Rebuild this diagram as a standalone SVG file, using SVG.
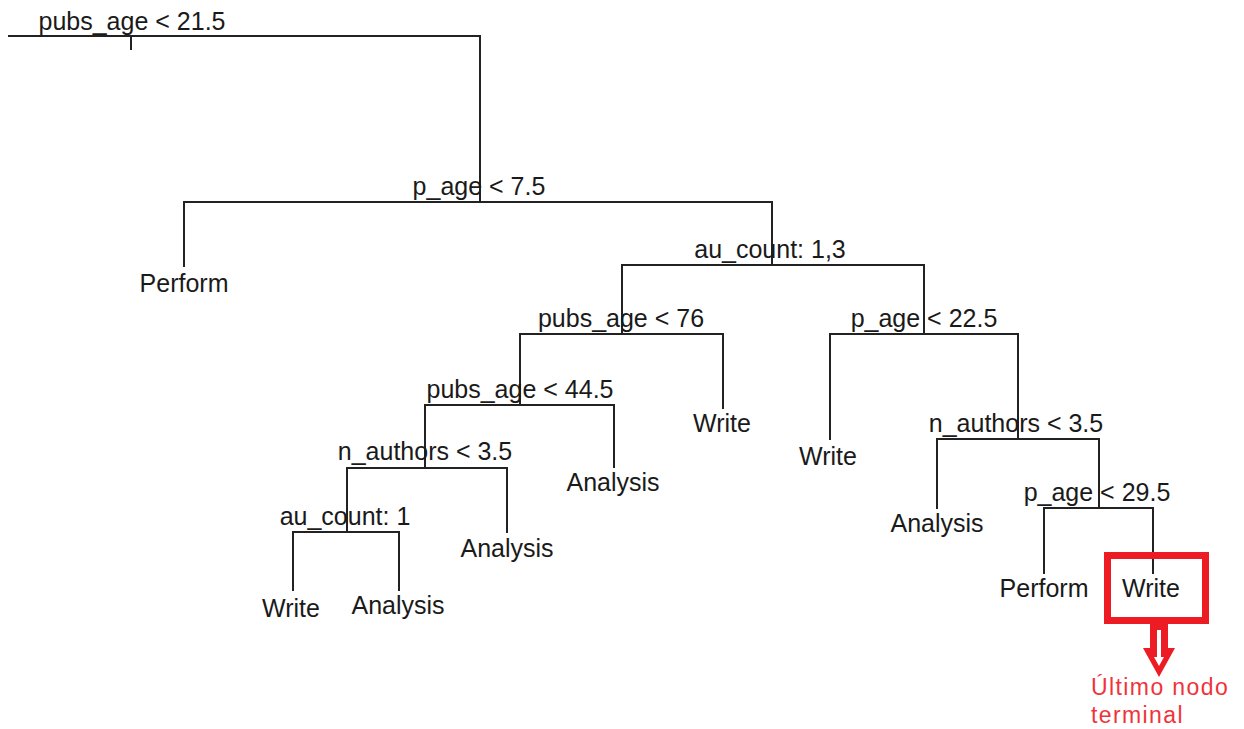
<svg xmlns="http://www.w3.org/2000/svg" width="1244" height="729" viewBox="0 0 1244 729">
  <style>
    .edge { fill: none; stroke: #222; stroke-width: 2; stroke-linecap: square; }
    .lbl { font-family: "Liberation Sans", Arial, sans-serif; font-size: 25px; fill: #1a1a1a; text-anchor: middle; }
    .note { font-family: "Liberation Sans", Arial, sans-serif; font-size: 23px; letter-spacing: 1.4px; fill: #f0333b; }
  </style>
  <rect width="1244" height="729" fill="#ffffff"/>

  <!-- tree branches -->
  <g id="connectors">
    <!-- root -->
    <path class="edge" d="M9 36 H480 V202"/>
    <path class="edge" d="M131 36 V49"/>
    <!-- p_age < 7.5 -->
    <path class="edge" d="M184 266 V202 H772 V265"/>
    <!-- au_count: 1,3 -->
    <path class="edge" d="M622 334 V265 H924 V334"/>
    <!-- pubs_age < 76 -->
    <path class="edge" d="M520 405 V334 H723 V408"/>
    <!-- p_age < 22.5 -->
    <path class="edge" d="M830 439 V334 H1018 V439"/>
    <!-- pubs_age < 44.5 -->
    <path class="edge" d="M425 468 V405 H614 V467"/>
    <!-- n_authors < 3.5 (left) -->
    <path class="edge" d="M347 532 V468 H507 V532"/>
    <!-- au_count: 1 -->
    <path class="edge" d="M293 590 V532 H399 V590"/>
    <!-- n_authors < 3.5 (right) -->
    <path class="edge" d="M937 508 V439 H1099 V508"/>
    <!-- p_age < 29.5 -->
    <path class="edge" d="M1044 573 V508 H1153 V573"/>
  </g>

  <!-- split nodes -->
  <g id="n-root"><text class="lbl" x="132" y="30">pubs_age &lt; 21.5</text></g>
  <g id="n-page-7"><text class="lbl" x="479" y="195">p_age &lt; 7.5</text></g>
  <g id="n-aucount-13"><text class="lbl" x="770" y="258">au_count: 1,3</text></g>
  <g id="n-pubs-76"><text class="lbl" x="621" y="327">pubs_age &lt; 76</text></g>
  <g id="n-page-22"><text class="lbl" x="924" y="327">p_age &lt; 22.5</text></g>
  <g id="n-pubs-44"><text class="lbl" x="520" y="398">pubs_age &lt; 44.5</text></g>
  <g id="n-nauth-left"><text class="lbl" x="425" y="460">n_authors &lt; 3.5</text></g>
  <g id="n-aucount-1"><text class="lbl" x="345" y="525">au_count: 1</text></g>
  <g id="n-nauth-right"><text class="lbl" x="1016" y="432">n_authors &lt; 3.5</text></g>
  <g id="n-page-29"><text class="lbl" x="1097" y="501">p_age &lt; 29.5</text></g>

  <!-- terminal nodes -->
  <g id="leaf-perform-1"><text class="lbl" x="184" y="292">Perform</text></g>
  <g id="leaf-write-1"><text class="lbl" x="722" y="432">Write</text></g>
  <g id="leaf-write-2"><text class="lbl" x="828" y="465">Write</text></g>
  <g id="leaf-analysis-1"><text class="lbl" x="613" y="491">Analysis</text></g>
  <g id="leaf-analysis-2"><text class="lbl" x="507" y="557">Analysis</text></g>
  <g id="leaf-write-3"><text class="lbl" x="291" y="617">Write</text></g>
  <g id="leaf-analysis-3"><text class="lbl" x="398" y="614">Analysis</text></g>
  <g id="leaf-analysis-4"><text class="lbl" x="937" y="532">Analysis</text></g>
  <g id="leaf-perform-2"><text class="lbl" x="1044" y="597">Perform</text></g>
  <g id="leaf-write-4"><text class="lbl" x="1151" y="597">Write</text></g>

  <!-- highlight on the last terminal node -->
  <g id="highlight">
    <rect x="1107.5" y="555.5" width="98" height="65" fill="none" stroke="#ed1c24" stroke-width="7"/>
    <polygon points="1150,624 1168,624 1168,648 1175,648 1159,677 1143,648 1150,648" fill="#ed1c24"/>
    <polygon points="1157,630 1161,630 1161,657 1164,657 1159,666 1154,657 1157,657" fill="#ffffff"/>
    <text class="note" x="1091" y="695">Último nodo</text>
    <text class="note" x="1091" y="723">terminal</text>
  </g>
</svg>
